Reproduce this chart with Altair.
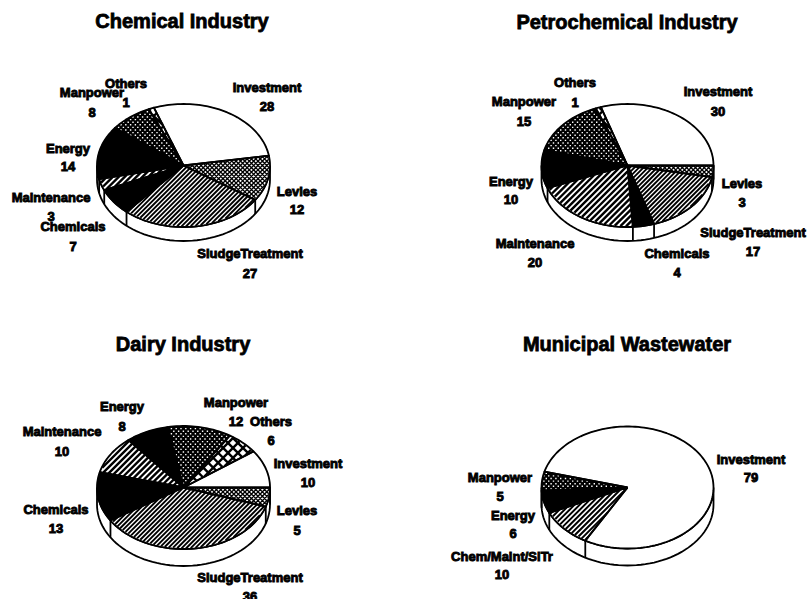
import math
import altair as alt
import pandas as pd

# Cost shares (percent) for each sector, clockwise from the first slice
CHEM_CATS = ["Investment", "Levies", "SludgeTreatment", "Chemicals", "Maintenance", "Energy", "Manpower", "Others"]
CHEMICAL_VALUES = [28, 12, 27, 7, 3, 14, 8, 1]
PETRO_VALUES = [30, 3, 17, 4, 20, 10, 15, 1]
DAIRY_VALUES = [10, 5, 36, 13, 10, 8, 12, 6]
MUNICIPAL_CATS = ["Investment", "Chem/Maint/SlTr", "Energy", "Manpower"]
MUNICIPAL_VALUES = [79, 10, 6, 5]
TITLES = ["Chemical Industry", "Petrochemical Industry", "Dairy Industry", "Municipal Wastewater"]

# Layout of each tilted pie: centre, radii, rim depth, angle of the first slice (degrees from north)
PIE_LAYOUT = [
    dict(cx=183.5, cy=165.5, rx=86.5, ry=61.5, depth=14, start=-20.0, title=(182, 22)),
    dict(cx=627.5, cy=165.5, rx=86, ry=61.5, depth=14, start=-18.0, title=(627, 23)),
    dict(cx=183.5, cy=487.5, rx=86.5, ry=61.5, depth=17, start=54.0, title=(183, 345)),
    dict(cx=627.5, cy=487.5, rx=86, ry=61, depth=17, start=285.0, title=(627, 345)),
]

# Label anchors per slice: name and value lines
LABEL_XY = [
    [(267, 88, 107), (297, 192, 210), (250, 254, 274), (73, 227, 247), (51, 198, 217), (68, 149, 167), (92, 93, 113), (126, 84, 103)],
    [(718, 92, 112), (742, 184, 203), (753, 233, 252), (677, 254, 273), (535, 244, 263), (511, 182, 200), (524, 102, 122), (575, 83, 103)],
    [(308, 464, 483), (297, 511, 531), (250, 578, 597), (56, 510, 529), (62, 432, 452), (122, 407, 427), (236, 403, 422), (271, 422, 441)],
    [(751, 460, 478), (502, 557, 575), (513, 516, 534), (500, 478, 497)],
]

# Fill style of each category
STYLES = {
    "Investment": dict(fill="white"),
    "Levies": dict(fill="white", cross=3.1, width=1.35),
    "SludgeTreatment": dict(fill="white", hatch=3.2, width=1.9),
    "Chem/Maint/SlTr": dict(fill="white", hatch=3.6, width=2.0),
    "Chemicals": dict(fill="black"),
    "Maintenance": dict(fill="white", hatch=4.2, width=2.4),
    "Energy": dict(fill="black"),
    "Manpower": dict(fill="black", dots=True),
    "Others": dict(fill="white", cross=7.0, width=2.4),
}

PIES = [
    (CHEM_CATS, CHEMICAL_VALUES),
    (CHEM_CATS, PETRO_VALUES),
    (CHEM_CATS, DAIRY_VALUES),
    (MUNICIPAL_CATS, MUNICIPAL_VALUES),
]


def rim(p, deg):
    a = math.radians(deg)
    return [p["cx"] + p["rx"] * math.sin(a), p["cy"] - p["ry"] * math.cos(a)]


def in_sector(p, x, y, a0, a1):
    u, v = (x - p["cx"]) / p["rx"], (y - p["cy"]) / p["ry"]
    if u * u + v * v > 0.985:
        return False
    ang = math.degrees(math.atan2(u, -v))
    ang = (ang - a0) % 360
    return ang <= (a1 - a0)


def feature(kind, geometry, fill="white", width=1.0):
    return {"type": "Feature", "geometry": geometry, "properties": {"fill": fill, "width": width, "kind": kind}}


def diagonal_runs(p, a0, a1, step, sign):
    """Segments of parallel 45-degree lines lying inside one slice."""
    runs = []
    reach = p["rx"] + p["ry"] + 10
    k = -int(reach / step) - 1
    while k * step * math.sqrt(2) < reach * 2:
        c = k * step * math.sqrt(2)
        current = []
        t = -reach
        while t <= reach:
            x = p["cx"] + t
            y = p["cy"] - sign * t + c
            if in_sector(p, x, y, a0, a1):
                current.append([x, y])
            else:
                if len(current) > 1:
                    runs.append([current[0], current[-1]])
                current = []
            t += 0.4
        if len(current) > 1:
            runs.append([current[0], current[-1]])
        k += 1
    return runs


def dot_cells(p, a0, a1):
    """Small white squares on a staggered grid inside one slice."""
    cells = []
    size = 0.7
    row = 0
    y = p["cy"] - p["ry"]
    while y < p["cy"] + p["ry"]:
        x = p["cx"] - p["rx"] + (2.4 if row % 2 else 0)
        while x < p["cx"] + p["rx"]:
            if in_sector(p, x, y, a0 + 1.0, a1 - 1.0):
                cells.append([[[x - size, y - size], [x + size, y - size], [x + size, y + size], [x - size, y + size], [x - size, y - size]]])
            x += 4.8
        y += 2.6
        row += 1
    return cells


walls, bases, lines, dots, outlines, texts, titles = [], [], [], [], [], [], []

for p, (cats, vals), anchors, title in zip(PIE_LAYOUT, PIES, LABEL_XY, TITLES):
    # Rim below the front half of the disc
    front = [rim(p, d) for d in range(90, 271, 3)]
    wall = front + [[x, y + p["depth"]] for x, y in reversed(front)] + [front[0]]
    walls.append(feature("wall", {"type": "Polygon", "coordinates": [wall]}))

    a0 = p["start"]
    for cat, val, (lx, ly, vy) in zip(cats, vals, anchors):
        a1 = a0 + val * 3.6
        style = STYLES[cat]
        n = max(2, int((a1 - a0) / 2))
        arc = [rim(p, a0 + (a1 - a0) * i / n) for i in range(n + 1)]
        apex = [p["cx"], p["cy"]]
        ring = [apex] + arc + [apex]
        bases.append(feature("base", {"type": "Polygon", "coordinates": [ring]}, style["fill"]))

        if "hatch" in style:
            segs = diagonal_runs(p, a0, a1, style["hatch"], 1)
            lines.append(feature("hatch", {"type": "MultiLineString", "coordinates": segs}, width=style["width"]))
        if "cross" in style:
            segs = diagonal_runs(p, a0, a1, style["cross"], 1) + diagonal_runs(p, a0, a1, style["cross"], -1)
            lines.append(feature("hatch", {"type": "MultiLineString", "coordinates": segs}, width=style["width"]))
        if style.get("dots"):
            cells = dot_cells(p, a0, a1)
            dots.append(feature("dots", {"type": "MultiPolygon", "coordinates": cells}))

        outlines.append(feature("edge", {"type": "LineString", "coordinates": ring}))
        # Vertical seam on the rim where a slice boundary falls on the front half
        if 90 <= a1 % 360 <= 270:
            x, y = rim(p, a1)
            outlines.append(feature("edge", {"type": "LineString", "coordinates": [[x, y], [x, y + p["depth"]]]}))

        texts.append(dict(x=lx, y=ly, text=cat))
        texts.append(dict(x=lx, y=vy, text=str(val)))
        a0 = a1
    titles.append(dict(x=p["title"][0], y=p["title"][1], text=title))

IDENTITY = dict(type="identity", scale=1, translate=[0, 0])


def shapes(rows, **mark):
    return alt.Chart(alt.Data(values=rows)).mark_geoshape(**mark).project(**IDENTITY)


wall_layer = shapes(walls, fill="white", stroke="black", strokeWidth=1.8)
base_layer = (
    alt.Chart(alt.Data(values=bases))
    .mark_geoshape(stroke="black", strokeWidth=0.5)
    .encode(fill=alt.Fill("properties.fill:N", scale=None))
    .project(**IDENTITY)
)
hatch_layer = (
    alt.Chart(alt.Data(values=lines))
    .mark_geoshape(filled=False, stroke="black")
    .encode(strokeWidth=alt.StrokeWidth("properties.width:Q", scale=None))
    .project(**IDENTITY)
)
dot_layer = shapes(dots, fill="white", stroke="white", strokeWidth=0)
edge_layer = shapes(outlines, filled=False, stroke="black", strokeWidth=1.8, strokeJoin="round")

label_layer = (
    alt.Chart(pd.DataFrame(texts))
    .mark_text(font="Liberation Sans", fontWeight="bold", fontSize=13, color="black", stroke="black", strokeWidth=0.9, baseline="middle")
    .encode(longitude="x:Q", latitude="y:Q", text="text:N")
    .project(**IDENTITY)
)
title_layer = (
    alt.Chart(pd.DataFrame(titles))
    .mark_text(font="Liberation Sans", fontWeight="bold", fontSize=20, color="black", stroke="black", strokeWidth=0.8, baseline="middle")
    .encode(longitude="x:Q", latitude="y:Q", text="text:N")
    .project(**IDENTITY)
)

chart = (
    alt.layer(wall_layer, base_layer, hatch_layer, dot_layer, edge_layer, label_layer, title_layer)
    .properties(width=810, height=599, padding=0, autosize=alt.AutoSizeParams(type="none"), background="white")
    .configure_view(stroke=None)
)

chart.save("out.html", embed_options={"renderer": "svg", "actions": False})
